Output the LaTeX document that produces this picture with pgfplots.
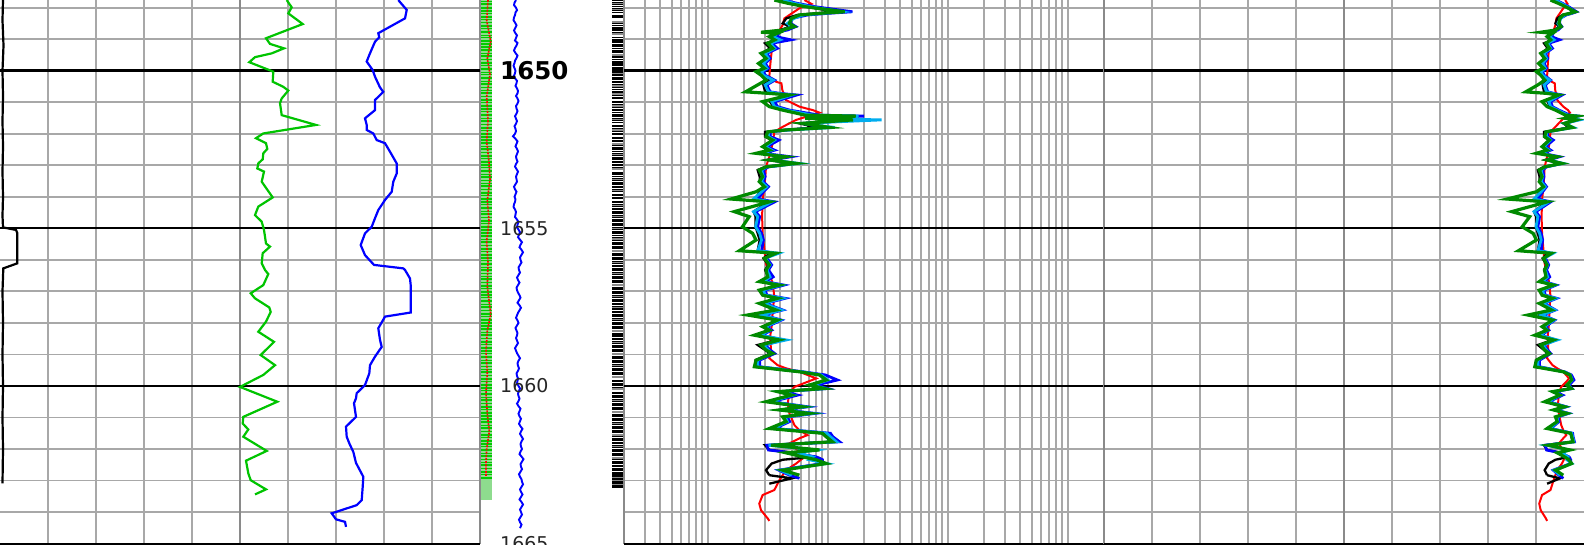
\documentclass[border=0pt]{standalone}
\usepackage{fontspec}
\setmainfont{DejaVu Sans}
\usepackage{pgfplots}
\pgfplotsset{compat=1.18}
\usepackage{pgfplotstable}

\definecolor{gridgray}{HTML}{A8A8A8}
\definecolor{bordergray}{HTML}{8A8A8A}
\definecolor{grgreen}{HTML}{00C400}
\definecolor{logreen}{HTML}{008A00}
\definecolor{barlight}{HTML}{8EDC8E}
\definecolor{bargreen}{HTML}{00CC00}

% ---------- track 1 ----------
\pgfplotstableread{
x D
3 1647.76
2.5 1648.40
3.5 1649.20
2.5 1650.00
3 1650.80
2.5 1651.60
3 1652.40
2.5 1653.20
3 1654.00
2.5 1654.60
3 1654.97
16 1655.05
17.3 1655.15
17.3 1656.11
3.3 1656.27
2.5 1657.00
3 1658.00
2.5 1659.00
3 1660.00
2.5 1661.00
3 1662.00
2.5 1663.09
}\tonecal

\pgfplotstableread{
x D
286.7 1647.76
291.7 1647.99
288.3 1648.18
302.7 1648.52
266 1648.97
270 1649.15
284 1649.29
271.7 1649.45
255 1649.57
249.3 1649.73
273.3 1650.03
272.7 1650.35
283.3 1650.51
288.3 1650.63
281.7 1650.88
280 1651.03
281.7 1651.41
316 1651.72
263.3 1651.99
256 1652.14
266 1652.30
267.3 1652.48
263.3 1652.62
262.7 1652.81
258.3 1652.94
257.3 1653.10
264 1653.20
261.7 1653.52
272.7 1654.02
258.3 1654.31
255 1654.58
261.7 1654.79
264 1655.05
266 1655.48
270 1655.58
262.7 1655.79
261.7 1656.11
265 1656.32
268.3 1656.45
263.3 1656.80
250.7 1657.06
255 1657.22
269.3 1657.51
270.7 1657.65
266 1657.96
258.3 1658.28
274 1658.60
260.7 1659.02
275 1659.34
263.3 1659.65
240 1660.03
277.3 1660.50
243.3 1660.98
242.7 1661.19
248.3 1661.38
243.3 1661.61
266.7 1662.06
246 1662.37
248.3 1662.77
250.7 1662.99
266 1663.28
255 1663.44
}\tonegr

\pgfplotstableread{
x D
398.3 1647.76
406.7 1648.07
405 1648.34
378.3 1648.81
379.3 1648.94
375 1649.08
369.3 1649.50
366.7 1649.71
372.7 1649.98
375 1650.19
380 1650.53
383.3 1650.67
375 1650.93
375 1651.25
365 1651.51
366.7 1651.72
366.7 1651.88
373.3 1651.99
376.7 1652.20
385 1652.30
390 1652.57
396.7 1652.94
396.7 1653.26
393.3 1653.52
391.7 1653.84
385 1654.10
378.3 1654.42
375 1654.68
371.7 1654.95
365 1655.16
360.7 1655.53
365 1655.85
374 1656.16
403.3 1656.27
405 1656.32
410 1656.59
410.7 1656.80
410.7 1657.67
385 1657.80
378.3 1658.17
380 1658.54
381.7 1658.76
375 1659.07
370 1659.34
369.3 1659.60
365 1659.97
356.7 1660.23
356 1660.39
354 1660.55
356 1660.98
346 1661.29
346.7 1661.61
349.3 1661.82
353.3 1662.09
356 1662.44
363.3 1662.88
362.7 1663.20
361.7 1663.62
356.7 1663.78
331.7 1664.04
336 1664.23
345 1664.31
346 1664.47
}\toneblue

% ---------- depth track ----------
\pgfplotstableread{
x D
8 1647.76
6.7 1648.41
10.7 1649.07
7.3 1649.62
10 1650.11
6.7 1650.82
8 1651.59
6.7 1652.25
9 1652.90
10 1653.45
7.3 1654.11
9 1654.76
6.7 1655.42
8 1656.08
7.3 1656.84
10.7 1657.72
7.3 1658.26
6 1658.92
7.3 1659.58
6 1660.23
7.3 1660.89
9.3 1661.44
6.7 1661.99
6 1662.42
6 1662.86
}\dtred

\pgfplotstableread{
x D
36 1647.76
34.5 1647.84
34 1647.92
36 1648.00
37 1648.08
35.5 1648.15
35 1648.24
34 1648.31
33.5 1648.40
35 1648.47
36.5 1648.56
35.5 1648.63
34 1648.72
35 1648.79
37 1648.88
36 1648.96
35 1649.04
37.5 1649.12
36.5 1649.20
35 1649.28
34 1649.36
35.5 1649.44
37.5 1649.52
36.5 1649.60
35 1649.68
34.5 1649.76
33.5 1649.84
34.5 1649.92
35.5 1650.00
35 1650.08
34 1650.16
35 1650.24
37 1650.32
36.5 1650.40
35.5 1650.48
37 1650.56
38 1650.64
37.5 1650.72
36 1650.80
37.5 1650.88
38.5 1650.96
37.5 1651.04
36 1651.12
36.5 1651.20
37.5 1651.28
36.5 1651.36
35 1651.44
36 1651.52
37 1651.60
36 1651.68
34.5 1651.76
35.5 1651.84
36 1651.92
35 1652.00
33 1652.08
35.5 1652.16
37.5 1652.24
36.5 1652.32
35.5 1652.40
37 1652.48
38 1652.56
37 1652.64
36 1652.72
36.5 1652.80
37.5 1652.88
36 1652.96
35 1653.04
36.5 1653.12
38 1653.20
37 1653.28
36 1653.36
36.5 1653.44
37 1653.52
35.5 1653.60
34 1653.68
35 1653.76
36.5 1653.84
35.5 1653.92
34.5 1654.00
35.5 1654.08
35 1654.16
34 1654.24
33.5 1654.32
35 1654.40
36 1654.48
35.5 1654.56
35 1654.64
37 1654.72
38.5 1654.80
37.5 1654.88
37 1654.96
38.5 1655.04
40 1655.12
39 1655.20
38 1655.28
40 1655.36
42 1655.44
40.5 1655.52
39.5 1655.60
41.5 1655.68
43 1655.76
41.5 1655.84
40 1655.92
40.5 1656.00
41.5 1656.08
40 1656.16
38.5 1656.24
39 1656.32
40 1656.40
38.5 1656.48
37 1656.56
38 1656.64
39.5 1656.72
38 1656.80
36.5 1656.88
37 1656.96
38 1657.04
39.5 1657.12
40.5 1657.20
39 1657.28
37.5 1657.36
39.5 1657.44
41 1657.52
39.5 1657.60
38 1657.68
37 1657.76
36 1657.84
37.5 1657.92
38.5 1658.00
37 1658.08
35.5 1658.16
36.5 1658.24
37.5 1658.32
37 1658.40
36 1658.48
37 1658.56
38 1658.64
36.5 1658.72
35 1658.80
36 1658.88
37 1658.96
38.5 1659.04
40 1659.12
38.5 1659.20
37.5 1659.28
38 1659.36
39 1659.44
38 1659.52
36.5 1659.60
37 1659.68
38 1659.76
37.5 1659.84
37 1659.92
38.5 1660.00
40 1660.08
39 1660.16
38 1660.24
38.5 1660.32
39.5 1660.40
38.5 1660.48
37 1660.56
38.5 1660.64
40.5 1660.72
39.5 1660.80
38.5 1660.88
39.5 1660.96
41 1661.04
40 1661.12
39 1661.20
40.5 1661.28
42.5 1661.36
41 1661.44
40 1661.52
41.5 1661.60
43 1661.68
41.5 1661.76
40.5 1661.84
41 1661.92
42 1662.00
40.5 1662.08
39.5 1662.16
41.5 1662.24
43.5 1662.32
42 1662.40
40.5 1662.48
41 1662.56
42 1662.64
40.5 1662.72
39 1662.80
40 1662.88
41.5 1662.96
42 1663.04
43 1663.12
41.5 1663.20
40 1663.28
41 1663.36
42.5 1663.44
41 1663.52
39.5 1663.60
41.5 1663.68
43 1663.76
41.5 1663.84
40 1663.92
41 1664.00
42 1664.08
40.5 1664.16
39 1664.24
40 1664.32
41.5 1664.40
40 1664.51
}\dtblue

\pgfplotstableread{
D
1647.80
1647.89
1648.01
1648.10
1648.18
1648.29
1648.37
1648.47
1648.58
1648.66
1648.77
1648.88
1648.95
1649.06
1649.16
1649.24
1649.35
1649.46
1649.53
1649.64
1649.75
1649.83
1649.94
1650.05
1650.12
1650.23
1650.34
1650.42
1650.53
1650.63
1650.71
1650.82
1650.93
1651.01
1651.12
1651.22
1651.30
1651.41
1651.52
1651.60
1651.71
1651.81
1651.89
1652.00
1652.11
1652.19
1652.30
1652.40
1652.48
1652.59
1652.70
1652.78
1652.89
1652.99
1653.07
1653.18
1653.29
1653.37
1653.48
1653.58
1653.66
1653.77
1653.88
1653.96
1654.07
1654.17
1654.25
1654.36
1654.47
1654.55
1654.66
1654.76
1654.84
1654.95
1655.06
1655.14
1655.25
1655.35
1655.43
1655.54
1655.65
1655.73
1655.84
1655.94
1656.02
1656.13
1656.24
1656.32
1656.43
1656.53
1656.61
1656.72
1656.83
1656.91
1657.02
1657.12
1657.20
1657.31
1657.42
1657.50
1657.61
1657.71
1657.79
1657.90
1658.01
1658.09
1658.20
1658.30
1658.38
1658.49
1658.60
1658.68
1658.79
1658.89
1658.97
1659.08
1659.19
1659.27
1659.38
1659.48
1659.56
1659.67
1659.78
1659.86
1659.97
1660.07
1660.15
1660.26
1660.37
1660.45
1660.56
1660.66
1660.74
1660.85
1660.96
1661.04
1661.15
1661.25
1661.33
1661.44
1661.55
1661.63
1661.74
1661.84
1661.92
1662.03
1662.14
1662.22
1662.33
1662.43
1662.51
1662.62
1662.73
1662.81
1662.92
}\greenbars

\pgfplotstableread{
D
1647.81
1647.92
1648.00
1648.12
1648.20
1648.33
1648.39
1648.52
1648.61
1648.77
1648.90
1648.99
1649.15
1649.25
1649.34
1649.44
1649.60
1649.69
1649.88
1650.17
1650.31
1650.40
1650.55
1650.64
1650.82
1650.93
1651.05
1651.20
1651.28
1651.37
1651.49
1651.61
1651.69
1651.80
1651.96
1652.07
1652.19
1652.27
1652.39
1652.52
1652.60
1652.71
1652.86
1652.95
1653.05
1653.18
1653.31
1653.40
1653.52
1653.64
1653.73
1653.88
1654.00
1654.10
1654.22
1654.35
1654.44
1654.55
1654.70
1654.82
1654.93
1655.07
1655.19
1655.27
1655.41
1655.53
1655.66
1655.78
1655.90
1656.01
1656.15
1656.25
1656.38
1656.50
1656.61
1656.75
1656.85
1656.97
1657.11
1657.22
1657.35
1657.46
1657.60
1657.70
1657.84
1657.95
1658.08
1658.20
1658.31
1658.45
1658.56
1658.69
1658.80
1658.93
1659.04
1659.17
1659.30
1659.41
1659.54
1659.66
1659.78
1659.90
1660.03
1660.16
1660.27
1660.40
1660.52
1660.65
1660.77
1660.88
1661.01
1661.13
1661.26
1661.38
1661.50
1661.63
1661.75
1661.86
1661.99
1662.10
1662.23
1662.35
1662.48
1662.60
1662.70
}\barwhite

\pgfplotstableread{
D
1647.86
1648.06
1648.45
1648.83
1649.50
1650.08
1650.48
1650.74
1651.12
1651.55
1651.88
1652.33
1652.66
1653.12
1653.46
1653.80
1654.28
1654.62
1655.00
1655.34
1655.72
1656.08
1656.44
1656.80
1657.16
1657.52
1657.89
1658.26
1658.62
1658.98
1659.36
1659.72
1660.09
1660.46
1660.82
1661.19
1661.56
1661.92
1662.29
1662.90
1663.00
1663.12
}\bargray

% ---------- deep/shallow resistivity ----------
\pgfplotstableread{
D green cyan blue black
1647.76 3.58 4.2 4.3 3.9
1647.86 4.63 5.2 5.5 4.9
1647.97 6.47 7.2 7.8 6.6
1648.13 13.8 13.0 16.0 11.5
1648.18 8.51 9.2 10.0 8.0
1648.23 5.79 6.3 6.8 5.6
1648.34 4.97 5.2 5.0 4.5
1648.50 4.78 4.6 4.9 4.2
1648.60 5.26 5.0 5.4 4.9
1648.71 4.20 4.3 4.6 4.0
1648.78 2.77 3.3 3.5 3.2
1648.81 3.81 3.8 3.9 3.6
1648.92 3.25 3.5 3.7 3.3
1649.02 3.60 4.0 4.9 3.8
1649.13 3.15 3.3 3.4 3.0
1649.29 3.47 3.6 3.8 3.3
1649.45 2.77 3.0 3.1 2.8
1649.61 3.05 3.2 3.3 3.0
1649.77 2.64 2.9 3.0 2.8
1649.92 2.96 3.1 3.2 3.0
1650.03 2.52 2.8 2.9 2.7
1650.14 2.77 2.9 3.0 2.9
1650.30 3.05 3.5 3.6 3.3
1650.45 2.60 3.0 3.1 2.9
1650.67 2.06 3.2 3.3 3.0
1650.72 3.25 3.8 4.0 3.6
1650.77 4.78 5.0 5.5 4.6
1650.98 2.86 3.4 3.6 3.3
1651.14 3.25 3.6 3.8 3.5
1651.25 4.20 4.5 4.8 4.3
1651.41 6.47 7.5 8.5 7.0
1651.44 17.1 18.0 20.0 16.0
1651.51 6.47 7.5 8.0 7.0
1651.56 16.2 28.0 18.0 15.0
1651.67 6.17 6.0 6.5 5.8
1651.80 10.3 11.4 9.0 8.0
1651.88 4.48 4.6 4.6 4.2
1651.94 3.15 3.2 3.3 3.0
1652.09 3.05 3.2 3.3 3.0
1652.20 3.47 3.6 3.9 3.4
1652.41 2.86 3.0 3.1 2.9
1652.52 3.25 3.4 3.6 3.2
1652.62 2.52 2.8 2.9 2.7
1652.73 4.48 4.4 4.9 4.2
1652.83 3.25 3.3 3.4 3.1
1652.94 5.44 5.7 5.4 5.0
1653.05 3.05 3.1 3.2 3.0
1653.15 2.68 2.8 2.9 2.6
1653.36 2.86 2.9 3.0 2.7
1653.52 2.68 2.8 2.9 2.7
1653.68 2.96 3.1 3.2 3.0
1653.84 2.52 2.8 2.9 2.7
1654.07 1.56 2.4 2.6 2.5
1654.16 3.25 3.4 3.6 3.2
1654.47 1.66 2.4 2.5 2.4
1654.63 2.21 2.6 2.7 2.5
1654.95 1.94 2.5 2.6 2.5
1655.16 2.36 2.7 2.8 2.6
1655.37 2.52 2.8 2.9 2.7
1655.71 1.83 2.6 2.8 2.6
1655.79 3.69 3.9 3.5 3.3
1655.95 2.96 3.0 3.1 2.9
1656.16 3.25 3.3 3.4 3.2
1656.32 3.05 3.1 3.2 3.0
1656.54 3.15 3.3 3.5 3.2
1656.69 2.68 2.9 3.0 2.8
1656.80 3.94 4.1 4.3 3.8
1656.96 2.68 2.9 3.0 2.8
1657.12 2.86 3.0 3.1 2.9
1657.22 3.81 4.2 4.4 3.9
1657.38 2.68 2.9 3.0 2.8
1657.59 3.69 4.1 4.2 3.8
1657.75 2.14 2.8 2.9 2.7
1657.91 3.81 4.0 4.1 3.8
1658.12 2.86 3.0 3.1 2.9
1658.23 3.25 3.3 3.4 3.2
1658.39 2.44 2.7 2.8 2.5
1658.54 3.94 4.5 4.2 3.8
1658.70 2.77 2.9 3.0 2.6
1658.86 3.05 3.2 3.3 3.0
1658.97 3.47 3.4 3.6 3.3
1659.18 2.52 2.6 2.7 2.5
1659.39 2.44 2.6 2.7 2.5
1659.55 5.79 6.0 6.2 5.8
1659.65 8.51 8.8 9.5 8.5
1659.81 9.70 10.0 12.0 9.8
1659.97 7.02 7.5 8.0 7.2
1660.08 9.37 9.5 10.0 9.0
1660.18 3.81 4.0 4.2 3.9
1660.29 4.97 5.1 5.6 5.0
1660.50 3.05 3.3 3.4 3.2
1660.66 6.17 6.5 6.8 6.0
1660.76 3.94 4.1 4.3 4.0
1660.87 7.02 7.4 7.8 7.0
1660.98 4.20 4.4 4.6 4.3
1661.13 4.48 4.6 4.8 4.5
1661.35 3.25 3.5 3.6 3.4
1661.50 9.00 9.8 10.5 9.0
1661.61 9.70 10.5 11.0 9.6
1661.77 10.9 11.8 12.5 10.8
1661.88 3.36 3.2 3.1 3.0
1662.03 8.51 8.0 3.2 3.25
1662.12 4.48 5.5 5.0 5.4
1662.25 6.17 7.5 8.0 7.7
1662.34 8.0 7.0 9.0 4.2
1662.46 9.70 9.8 9.0 3.4
1662.67 4.20 4.0 3.9 3.05
1662.83 5.79 5.0 4.8 3.25
}\deepres

\pgfplotstableread{
D blue
1662.83 4.8
1662.93 5.8
}\bluetail

\pgfplotstableread{
D black
1662.83 3.25
1662.93 5.0
1663.10 3.25
}\blacktail

\pgfplotstableread{
D red
1647.76 6.38
1647.88 7.3
1648.02 5.79
1648.34 4.34
1648.55 4.20
1648.92 3.69
1649.13 3.47
1649.56 3.36
1649.87 3.30
1650.19 3.25
1650.35 3.69
1650.40 4.10
1650.61 4.17
1650.93 4.48
1651.14 5.79
1651.25 7.5
1651.33 8.51
1651.56 5.44
1651.78 4.20
1651.94 3.58
1652.30 3.47
1652.73 3.25
1653.05 3.05
1653.36 3.01
1653.68 2.96
1654.10 2.86
1654.63 2.83
1655.16 2.86
1655.69 2.96
1656.11 3.05
1656.43 3.25
1656.75 3.47
1657.17 3.58
1657.59 3.47
1658.01 3.43
1658.44 3.30
1658.86 3.36
1659.12 3.25
1659.34 3.81
1659.44 4.48
1659.55 5.79
1659.76 8.0
1659.87 6.75
1660.03 5.26
1660.23 4.78
1660.55 4.63
1660.87 4.78
1661.24 5.26
1661.40 5.79
1661.56 6.75
1661.66 5.79
1661.82 4.78
1662.09 5.79
1662.25 6.38
1662.46 5.44
1662.67 4.48
1662.99 3.94
1663.30 3.58
1663.46 2.86
1663.73 2.68
1663.94 2.77
1664.20 3.15
1664.28 3.25
}\redres

\pgfplotsset{
  track/.style={
    scale only axis, height=543.6pt, anchor=south west,
    ymin=1647.757, ymax=1665, y dir=reverse,
    axis line style={draw=none}, major tick length=0pt, minor tick length=0pt,
    xticklabels={}, yticklabels={},
    ytick={1648,1649,...,1664}, ymajorgrids, xmajorgrids,
    grid style={gridgray, line width=1.8pt},
    extra y ticks={1650,1655,1660,1665}, extra y tick labels={},
    extra y tick style={grid style={black, line width=2pt}},
    extra x tick labels={},
    extra x tick style={grid style={bordergray, line width=2.2pt}},
  },
  dtrack/.style={
    scale only axis, hide axis, anchor=south west, height=543.6pt,
    ymin=1647.757, ymax=1665, y dir=reverse, clip=false,
  },
}

\begin{document}
\begin{tikzpicture}
\path[use as bounding box] (0pt,0pt) rectangle (1584pt,545pt);
\fill[white] (0pt,0pt) rectangle (1584pt,545pt);

% depth track
\begin{axis}[dtrack, at={(480pt,1.4pt)}, width=144pt, xmin=0, xmax=144]
\addplot[fill=barlight, draw=none] coordinates {(0.7,1647.757) (12.3,1647.757) (12.3,1663.62) (0.7,1663.62)};
\addplot[xcomb, bargreen, line width=1.5pt, no markers] table[x expr=12.3, y=D] {\greenbars};
\addplot[red, line width=1.6pt, dash pattern=on 2pt off 1.2pt] table[x=x, y=D] {\dtred};
\addplot[blue, line width=1.9pt] table[x=x, y=D] {\dtblue};
\node[anchor=west, inner sep=0pt, font=\fontsize{24.5pt}{26pt}\selectfont\bfseries] at (axis cs:20,1650) {1650};
\node[anchor=west, inner sep=0pt, text=black!85, font=\fontsize{19pt}{21pt}\selectfont] at (axis cs:20,1655) {1655};
\node[anchor=west, inner sep=0pt, text=black!85, font=\fontsize{19pt}{21pt}\selectfont] at (axis cs:20,1660) {1660};
\node[anchor=west, inner sep=0pt, text=black!85, font=\fontsize{19pt}{21pt}\selectfont] at (axis cs:20,1665) {1665};
\end{axis}

% barcode strip
\begin{axis}[dtrack, at={(612pt,1.4pt)}, width=11pt, xmin=0, xmax=1]
\addplot[fill=black, draw=none] coordinates {(0,1647.757) (1,1647.757) (1,1663.24) (0,1663.24)};
\addplot[xcomb, white, line width=1.1pt, no markers] table[x expr=1, y=D] {\barwhite};
\addplot[xcomb, black!45, line width=1.4pt, no markers] table[x expr=1, y=D] {\bargray};
\end{axis}

% track 1
\begin{axis}[track, at={(0pt,1.4pt)}, width=480pt, xmin=0, xmax=480,
  xtick={48,96,...,432}, extra x ticks={240,480}]
\addplot[black, line width=3pt, forget plot] coordinates {(0,1650) (480,1650)};
\addplot[black, line width=2.2pt] table[x=x, y=D] {\tonecal};
\addplot[grgreen, line width=2.2pt] table[x=x, y=D] {\tonegr};
\addplot[blue, line width=2.2pt] table[x=x, y=D] {\toneblue};
\end{axis}

% track 3 (log)
\begin{axis}[track, at={(624pt,1.4pt)}, width=480pt, xmode=log, xmin=0.2, xmax=2000,
  xtick={0.3,0.4,0.5,0.6,0.7,0.8,0.9,1,2,3,4,5,6,7,8,9,10,20,30,40,50,60,70,80,90,100,200,300,400,500,600,700,800,900,1000},
  extra x ticks={0.2,2000}]
\addplot[black, line width=3pt, forget plot] coordinates {(0.2,1650) (2000,1650)};
\addplot[red, line width=2pt] table[x=red, y=D] {\redres};
\addplot[black, line width=2.3pt] table[x=black, y=D] {\deepres};
\addplot[black, line width=2.3pt] table[x=black, y=D] {\blacktail};
\addplot[blue, line width=2.8pt] table[x=blue, y=D] {\deepres};
\addplot[blue, line width=2.8pt] table[x=blue, y=D] {\bluetail};
\addplot[cyan, line width=2.8pt] table[x=cyan, y=D] {\deepres};
\addplot[logreen, line width=3.2pt] table[x=green, y=D] {\deepres};
\end{axis}

% track 4 (conductivity, linear, reversed)
\begin{axis}[track, at={(1104pt,1.4pt)}, width=480pt, xmin=0, xmax=4000, x dir=reverse,
  xtick={400,800,...,3600}, extra x ticks={2000,4000}]
\addplot[black, line width=3pt, forget plot] coordinates {(0,1650) (4000,1650)};
\addplot[red, line width=2pt] table[x expr=1000/\thisrow{red}, y=D] {\redres};
\addplot[black, line width=2.3pt] table[x expr=1000/\thisrow{black}, y=D] {\deepres};
\addplot[black, line width=2.3pt] table[x expr=1000/\thisrow{black}, y=D] {\blacktail};
\addplot[blue, line width=2.8pt] table[x expr=1000/\thisrow{blue}, y=D] {\deepres};
\addplot[blue, line width=2.8pt] table[x expr=1000/\thisrow{blue}, y=D] {\bluetail};
\addplot[cyan, line width=2.8pt] table[x expr=1000/\thisrow{cyan}, y=D] {\deepres};
\addplot[logreen, line width=3.2pt] table[x expr=1000/\thisrow{green}, y=D] {\deepres};
\end{axis}
\end{tikzpicture}
\end{document}
